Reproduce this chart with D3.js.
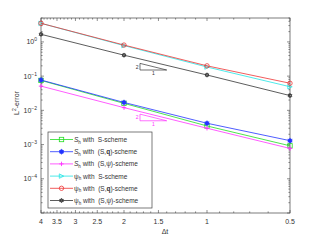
<!DOCTYPE html>
<html>
<head>
<meta charset="utf-8">
<script src="https://cdn.jsdelivr.net/npm/d3@7"></script>
<style>
  body { margin: 0; background: #fff; }
  text { font-family: "Liberation Sans", Arial, sans-serif; fill: #333; }
</style>
</head>
<body>
<svg id="chart" width="321" height="241"></svg>
<script>
// Time steps (x axis, reversed log scale).
const dtValues = [4, 2, 1, 0.5];
const xTickLabels = [4, 3.5, 3, 2.5, 2, 1.5, 1, 0.5];
const yTickExponents = [0, -1, -2, -3, -4];

// L2 errors.
const sWithS = [0.075, 0.016, 0.0035, 0.00092];
const sWithSq = [0.077, 0.017, 0.0042, 0.0013];
const sWithSpsi = [0.051, 0.012, 0.0030, 0.00077];
const psiWithS = [3.5, 0.78, 0.185, 0.049];
const psiWithSq = [3.5, 0.81, 0.20, 0.062];
const psiWithSpsi = [1.67, 0.41, 0.108, 0.027];

// Slope triangles (x left, x right, y bottom) in data units.
const triangleUpper = [1.75, 1.40, 0.151];
const triangleLower = [1.75, 1.40, 0.00496];

const series = [
    {name: "S", scheme: "S", values: sWithS, color: "#22dd22", marker: "square"},
    {name: "S", scheme: "q", values: sWithSq, color: "#2233ff", marker: "dot"},
    {name: "S", scheme: "psi", values: sWithSpsi, color: "#ff33ff", marker: "plus"},
    {name: "psi", scheme: "S", values: psiWithS, color: "#22e5e5", marker: "triangle"},
    {name: "psi", scheme: "q", values: psiWithSq, color: "#ee3333", marker: "circle"},
    {name: "psi", scheme: "psi", values: psiWithSpsi, color: "#333333", marker: "hexagram"}
];

const svg = d3.select("#chart");
const plotLeft = 41, plotRight = 290, plotTop = 18, plotBottom = 213;

const x = d3.scaleLog().domain([4, 0.5]).range([plotLeft, plotRight]);
const y = d3.scaleLog().domain([1e-5, 5]).range([plotBottom, plotTop]);

const axisColor = "#444";

// Ticks on all four sides, pointing inwards.
function drawTicks() {
    let g = svg.append("g").attr("stroke", axisColor).attr("stroke-width", 0.6);

    // X minor ticks every 0.1, major at labels.
    let xMinor = d3.range(5, 41).map(function(v) { return v / 10; });
    xMinor.forEach(function(v) {
        let major = xTickLabels.some(function(t) { return Math.abs(t - v) < 1e-9; });
        let len = major ? 3 : 1.6;
        g.append("line").attr("x1", x(v)).attr("x2", x(v))
            .attr("y1", plotBottom).attr("y2", plotBottom - len);
        g.append("line").attr("x1", x(v)).attr("x2", x(v))
            .attr("y1", plotTop).attr("y2", plotTop + len);
    });

    // Y ticks: major at decades, minor at 2..9.
    for (let e = -5; e <= 0; e++) {
        for (let m = 1; m <= 9; m++) {
            let v = m * Math.pow(10, e);
            if (v < 1e-5 || v > 5) continue;
            let len = m === 1 ? 3 : 1.6;
            g.append("line").attr("x1", plotLeft).attr("x2", plotLeft + len)
                .attr("y1", y(v)).attr("y2", y(v));
            g.append("line").attr("x1", plotRight).attr("x2", plotRight - len)
                .attr("y1", y(v)).attr("y2", y(v));
        }
    }

    // Frame.
    svg.append("rect")
        .attr("x", plotLeft).attr("y", plotTop)
        .attr("width", plotRight - plotLeft).attr("height", plotBottom - plotTop)
        .attr("fill", "none").attr("stroke", axisColor).attr("stroke-width", 0.7);
}

function drawTickLabels() {
    xTickLabels.forEach(function(t) {
        svg.append("text")
            .attr("x", x(t)).attr("y", 224)
            .attr("text-anchor", "middle")
            .attr("font-size", 7)
            .text(t);
    });

    yTickExponents.forEach(function(e) {
        let t = svg.append("text")
            .attr("x", 37).attr("y", y(Math.pow(10, e)) + 2.5)
            .attr("text-anchor", "end")
            .attr("font-size", 7);
        t.append("tspan").text("10");
        t.append("tspan").attr("dy", -3).attr("font-size", 5)
            .text(e === 0 ? "0" : "\u2212" + (-e));
    });

    // Axis titles.
    svg.append("text")
        .attr("x", 165).attr("y", 234)
        .attr("text-anchor", "middle")
        .attr("font-size", 7)
        .text("\u0394t");

    let yl = svg.append("text")
        .attr("transform", "translate(19,103) rotate(-90)")
        .attr("text-anchor", "middle")
        .attr("font-size", 7);
    yl.append("tspan").text("L");
    yl.append("tspan").attr("dy", -3).attr("font-size", 5).text("2");
    yl.append("tspan").attr("dy", 3).text("-error");
}

function drawMarker(g, kind, cx, cy, color) {
    // Small MATLAB-like markers.
    let r = 2.2;
    if (kind === "square") {
        g.append("rect").attr("x", cx - r).attr("y", cy - r)
            .attr("width", 2 * r).attr("height", 2 * r)
            .attr("fill", "none").attr("stroke", color).attr("stroke-width", 0.8);
    } else if (kind === "dot") {
        g.append("circle").attr("cx", cx).attr("cy", cy).attr("r", 2)
            .attr("fill", color).attr("stroke", color).attr("stroke-width", 0.6);
        g.append("path")
            .attr("d", d3.symbol().type(d3.symbolAsterisk).size(22)())
            .attr("transform", "translate(" + cx + "," + cy + ")")
            .attr("stroke", color).attr("stroke-width", 0.6).attr("fill", "none");
    } else if (kind === "plus") {
        g.append("path")
            .attr("d", "M" + (cx - r) + "," + cy + "H" + (cx + r) +
                "M" + cx + "," + (cy - r) + "V" + (cy + r))
            .attr("stroke", color).attr("stroke-width", 0.9);
    } else if (kind === "triangle") {
        g.append("path")
            .attr("d", "M" + (cx - r) + "," + (cy - r) + "L" + (cx + r) + "," + cy +
                "L" + (cx - r) + "," + (cy + r) + "Z")
            .attr("fill", "none").attr("stroke", color).attr("stroke-width", 0.8);
    } else if (kind === "circle") {
        g.append("circle").attr("cx", cx).attr("cy", cy).attr("r", r)
            .attr("fill", "none").attr("stroke", color).attr("stroke-width", 0.8);
    } else if (kind === "hexagram") {
        let pts = function(offset) {
            return d3.range(3).map(function(i) {
                let a = offset + i * 2 * Math.PI / 3;
                return [cx + r * Math.sin(a), cy - r * Math.cos(a)];
            });
        };
        [0, Math.PI].forEach(function(o) {
            g.append("path")
                .attr("d", "M" + pts(o).join("L") + "Z")
                .attr("fill", "none").attr("stroke", color).attr("stroke-width", 0.8);
        });
    }
}

function drawSeries() {
    let line = d3.line()
        .x(function(d) { return x(d[0]); })
        .y(function(d) { return y(d[1]); });

    series.forEach(function(s) {
        let pts = dtValues.map(function(dt, i) { return [dt, s.values[i]]; });
        let g = svg.append("g");
        g.append("path").attr("d", line(pts))
            .attr("fill", "none").attr("stroke", s.color).attr("stroke-width", 0.8);
        pts.forEach(function(p) {
            drawMarker(g, s.marker, x(p[0]), y(p[1]), s.color);
        });
    });
}

function drawTriangle(tri, color) {
    // Slope-2 reference triangle.
    let x1 = x(tri[0]), x2 = x(tri[1]);
    let yb = y(tri[2]);
    let yt = y(tri[2] * Math.pow(tri[0] / tri[1], 2));
    svg.append("path")
        .attr("d", "M" + x1 + "," + yt + "L" + x1 + "," + yb + "L" + x2 + "," + yb + "Z")
        .attr("fill", "none").attr("stroke", color).attr("stroke-width", 0.7);
    svg.append("text").attr("x", x1 - 1.5).attr("y", (yt + yb) / 2 + 2)
        .attr("text-anchor", "end").attr("font-size", 5).style("fill", color).text("2");
    svg.append("text").attr("x", (x1 + x2) / 2).attr("y", yb + 5)
        .attr("text-anchor", "middle").attr("font-size", 5).style("fill", color).text("1");
}

function drawLegend() {
    let lx = 48, ly = 132, lw = 104, lh = 76;
    let g = svg.append("g");
    g.append("rect").attr("x", lx).attr("y", ly).attr("width", lw).attr("height", lh)
        .attr("fill", "#fff").attr("stroke", axisColor).attr("stroke-width", 0.7);

    series.forEach(function(s, i) {
        let ry = ly + 7.5 + i * 12.2;
        g.append("line").attr("x1", lx + 2).attr("x2", lx + 25)
            .attr("y1", ry).attr("y2", ry)
            .attr("stroke", s.color).attr("stroke-width", 0.8);
        drawMarker(g, s.marker, lx + 13.5, ry, s.color);

        let t = g.append("text").attr("x", lx + 26).attr("y", ry + 2.5)
            .attr("font-size", 6.5).style("white-space", "pre");
        if (s.name === "S") {
            t.append("tspan").attr("font-style", "italic").text("S");
        } else {
            t.append("tspan").text("\u03c8");
        }
        t.append("tspan").attr("dy", 1.5).attr("font-size", 4.5).text("h");
        t.append("tspan").attr("dy", -1.5).text(" with  ");
        if (s.scheme === "S") {
            t.append("tspan").text("S-scheme");
        } else {
            t.append("tspan").text("(S,");
            if (s.scheme === "q") {
                t.append("tspan").attr("font-weight", "bold").text("q");
            } else {
                t.append("tspan").text("\u03c8");
            }
            t.append("tspan").text(")-scheme");
        }
    });
}

drawTicks();
drawSeries();
drawTriangle(triangleUpper, "#333");
drawTriangle(triangleLower, "#ff33ff");
drawTickLabels();
drawLegend();
</script>
</body>
</html>
